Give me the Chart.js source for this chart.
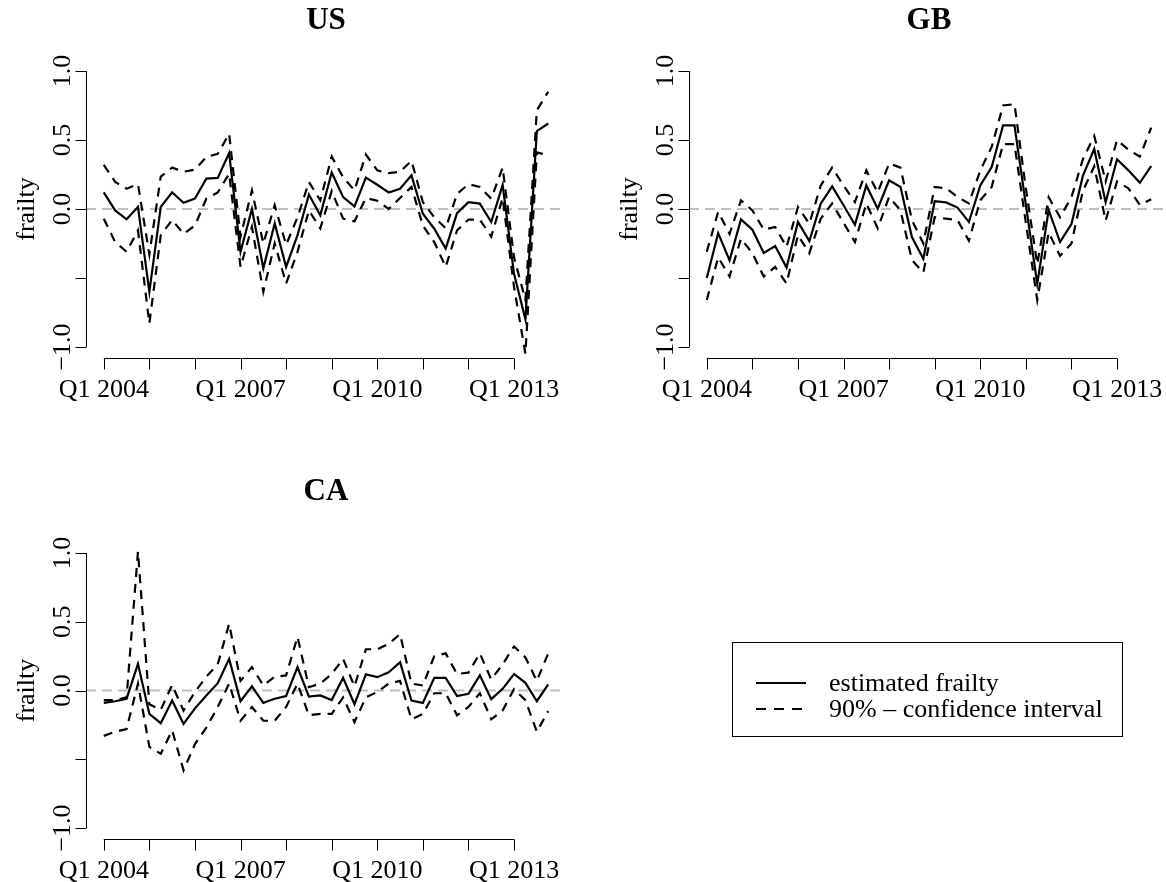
<!DOCTYPE html>
<html>
<head>
<meta charset="utf-8">
<script src="https://cdn.jsdelivr.net/npm/chart.js@4.4.1/dist/chart.umd.min.js"></script>
<style>
  html, body { margin: 0; padding: 0; background: #fff; width: 1166px; height: 882px; overflow: hidden; }
  canvas { position: absolute; left: 0; top: 0; }
  #legend { position: absolute; left: 732px; top: 642px; width: 389px; height: 93px; border: 1px solid #000;
            font-family: "Liberation Serif", "DejaVu Serif", serif; font-size: 26px; color: #000; }
  #legend .row { position: absolute; left: 22px; height: 26px; line-height: 26px; white-space: nowrap; }
  #legend svg { position: absolute; left: 0; top: 0; }
  #legend span { position: absolute; left: 74px; top: 0; }
</style>
</head>
<body>
<canvas id="us" width="1200" height="882"></canvas>
<canvas id="gb" width="1200" height="882"></canvas>
<canvas id="ca" width="1200" height="882"></canvas>
<div id="legend">
  <div class="row" style="top:27px">
    <svg width="52" height="26"><line x1="1" y1="13" x2="51" y2="13" stroke="#000" stroke-width="2.2"/></svg>
    <span>estimated frailty</span>
  </div>
  <div class="row" style="top:53px">
    <svg width="52" height="26"><line x1="1" y1="13" x2="51" y2="13" stroke="#000" stroke-width="2.2" stroke-dasharray="10 8"/></svg>
    <span>90% – confidence interval</span>
  </div>
</div>
<script>
// 四半期ラベル (Q1 2004 - Q4 2013)
const years = [2004, 2005, 2006, 2007, 2008, 2009, 2010, 2011, 2012, 2013];
const quarters = [];
years.forEach(y => ['Q1', 'Q2', 'Q3', 'Q4'].forEach(q => quarters.push(q + ' ' + y)));

// 目盛ラベル
const xLabelShown = ['Q1 2004', 'Q1 2007', 'Q1 2010', 'Q1 2013'];
const yTicks = [-1, -0.5, 0, 0.5, 1];
const yTickLabels = ['\u22121.0', '', '0.0', '0.5', '1.0'];

// US
const usMean = [0.12, -0.01, -0.075, 0.015, -0.6, 0.015, 0.12, 0.045, 0.075, 0.22,
  0.225, 0.405, -0.31, 0.0, -0.43, -0.105, -0.42, -0.19, 0.105, -0.045,
  0.265, 0.087, 0.019, 0.227, 0.176, 0.12, 0.147, 0.244, -0.034, -0.143,
  -0.287, -0.03, 0.05, 0.039, -0.094, 0.175, -0.47, -0.8, 0.565, 0.62];
const usUpper = [0.32, 0.196, 0.147, 0.18, -0.33, 0.235, 0.30, 0.27, 0.285, 0.377,
  0.40, 0.546, -0.2, 0.135, -0.25, 0.027, -0.26, -0.06, 0.196, 0.063,
  0.38, 0.23, 0.135, 0.395, 0.28, 0.26, 0.27, 0.35, 0.05, -0.06,
  -0.14, 0.11, 0.18, 0.16, 0.075, 0.30, -0.35, -0.66, 0.715, 0.85];
const usLower = [-0.07, -0.24, -0.31, -0.155, -0.83, -0.19, -0.08, -0.18, -0.12, 0.075,
  0.12, 0.256, -0.42, -0.13, -0.60, -0.25, -0.54, -0.31, -0.01, -0.14,
  0.13, -0.07, -0.09, 0.08, 0.06, 0.0, 0.08, 0.16, -0.12, -0.24,
  -0.42, -0.155, -0.077, -0.077, -0.2, 0.08, -0.565, -1.05, 0.41, 0.39];

// GB
const gbMean = [-0.5, -0.175, -0.372, -0.075, -0.15, -0.319, -0.268, -0.425, -0.094, -0.232,
  0.039, 0.164, 0.027, -0.114, 0.171, 0.002, 0.208, 0.16, -0.203, -0.36,
  0.056, 0.048, 0.01, -0.094, 0.171, 0.304, 0.606, 0.606, 0.03, -0.543,
  -0.007, -0.24, -0.11, 0.24, 0.435, 0.048, 0.36, 0.28, 0.19, 0.31];
const gbUpper = [-0.31, -0.02, -0.18, 0.063, -0.01, -0.15, -0.13, -0.275, 0.014, -0.106,
  0.17, 0.30, 0.17, 0.05, 0.28, 0.12, 0.33, 0.30, -0.08, -0.25,
  0.16, 0.15, 0.087, 0.04, 0.28, 0.45, 0.75, 0.76, 0.15, -0.40,
  0.085, -0.06, 0.085, 0.36, 0.53, 0.2, 0.5, 0.43, 0.38, 0.59];
const gbLower = [-0.66, -0.35, -0.49, -0.215, -0.32, -0.49, -0.42, -0.54, -0.19, -0.32,
  -0.07, 0.04, -0.1, -0.24, 0.04, -0.14, 0.087, -0.01, -0.37, -0.46,
  -0.06, -0.07, -0.08, -0.23, 0.063, 0.16, 0.47, 0.47, -0.1, -0.66,
  -0.17, -0.34, -0.25, 0.13, 0.31, -0.085, 0.2, 0.15, 0.03, 0.07];

// CA
const caMean = [-0.09, -0.078, -0.06, 0.194, -0.17, -0.238, -0.073, -0.243, -0.13, -0.036,
  0.053, 0.23, -0.078, 0.03, -0.09, -0.06, -0.04, 0.17, -0.044, -0.036,
  -0.07, 0.092, -0.10, 0.117, 0.097, 0.133, 0.206, -0.073, -0.09, 0.092,
  0.092, -0.04, -0.024, 0.11, -0.063, 0.012, 0.12, 0.056, -0.078, 0.044];
const caUpper = [-0.07, -0.07, -0.05, 1.01, -0.1, -0.14, 0.04, -0.146, -0.01, 0.1,
  0.19, 0.485, 0.07, 0.17, 0.036, 0.1, 0.11, 0.39, 0.024, 0.05,
  0.12, 0.23, 0.03, 0.30, 0.30, 0.34, 0.41, 0.05, 0.036, 0.25,
  0.27, 0.12, 0.13, 0.27, 0.08, 0.19, 0.32, 0.24, 0.07, 0.27];
const caLower = [-0.33, -0.3, -0.28, 0.05, -0.41, -0.46, -0.29, -0.58, -0.39, -0.27,
  -0.12, 0.05, -0.22, -0.12, -0.22, -0.22, -0.12, 0.05, -0.18, -0.17,
  -0.17, -0.05, -0.23, -0.05, -0.01, 0.05, 0.07, -0.21, -0.17, -0.02,
  -0.02, -0.18, -0.12, -0.02, -0.21, -0.145, 0.01, -0.07, -0.3, -0.15];

const FONT = '"Liberation Serif", "DejaVu Serif", serif';

// R風の軸・タイトル・ゼロ線
const rStyle = {
  id: 'rStyle',
  beforeDatasetsDraw(chart) {
    const { ctx, chartArea: ca, scales: { y } } = chart;
    const y0 = y.getPixelForValue(0);
    ctx.save();
    ctx.strokeStyle = '#bebebe';
    ctx.lineWidth = 2.2;
    ctx.setLineDash([10, 6]);
    ctx.beginPath();
    ctx.moveTo(ca.left, y0);
    ctx.lineTo(ca.right, y0);
    ctx.stroke();
    ctx.restore();
  },
  afterDraw(chart, args, opts) {
    const { ctx, chartArea: ca, scales: { x, y } } = chart;
    ctx.save();
    ctx.strokeStyle = '#000';
    ctx.fillStyle = '#000';
    ctx.lineWidth = 1;
    ctx.setLineDash([]);

    // x軸
    const tickIdx = quarters.map((q, i) => q.startsWith('Q1') ? i : -1).filter(i => i >= 0);
    const yb = Math.round(ca.bottom) + 0.5;
    const xa = x.getPixelForValue(tickIdx[0]);
    const xz = x.getPixelForValue(tickIdx[tickIdx.length - 1]);
    ctx.beginPath();
    ctx.moveTo(xa, yb); ctx.lineTo(xz, yb);
    tickIdx.forEach(i => {
      const px = Math.round(x.getPixelForValue(i)) + 0.5;
      ctx.moveTo(px, yb); ctx.lineTo(px, yb + 11);
    });
    ctx.stroke();
    ctx.font = '26px ' + FONT;
    ctx.textAlign = 'center';
    ctx.textBaseline = 'alphabetic';
    tickIdx.forEach(i => {
      if (xLabelShown.includes(quarters[i])) {
        ctx.fillText(quarters[i], x.getPixelForValue(i), yb + 38);
      }
    });

    // y軸
    const xl = Math.round(ca.left) + 0.5;
    ctx.beginPath();
    ctx.moveTo(xl, y.getPixelForValue(yTicks[0]));
    ctx.lineTo(xl, y.getPixelForValue(yTicks[yTicks.length - 1]));
    yTicks.forEach(v => {
      const py = Math.round(y.getPixelForValue(v)) + 0.5;
      ctx.moveTo(xl, py); ctx.lineTo(xl - 11, py);
    });
    ctx.stroke();
    yTicks.forEach((v, i) => {
      if (!yTickLabels[i]) return;
      ctx.save();
      ctx.translate(xl - 17, y.getPixelForValue(v));
      ctx.rotate(-Math.PI / 2);
      ctx.fillText(yTickLabels[i], 0, 0);
      ctx.restore();
    });
    // y軸タイトル
    ctx.save();
    ctx.translate(xl - 53, (ca.top + ca.bottom) / 2);
    ctx.rotate(-Math.PI / 2);
    ctx.fillText('frailty', 0, 0);
    ctx.restore();

    // パネルタイトル
    ctx.font = 'bold 31px ' + FONT;
    ctx.fillText(opts.title, (ca.left + ca.right) / 2, opts.titleY);
    ctx.restore();
  }
};

function makePanel(id, title, titleY, pad, mean, upper, lower) {
  const pts = arr => arr.map((v, i) => ({ x: i, y: v }));
  const base = { borderColor: '#000', borderWidth: 2.2, pointRadius: 0, tension: 0, fill: false };
  return new Chart(document.getElementById(id), {
    type: 'line',
    data: {
      datasets: [
        { ...base, label: 'estimated frailty', data: pts(mean) },
        { ...base, label: 'upper', data: pts(upper), borderDash: [9, 7] },
        { ...base, label: 'lower', data: pts(lower), borderDash: [9, 7] },
      ],
    },
    options: {
      responsive: false,
      animation: false,
      events: [],
      layout: { padding: pad },
      plugins: {
        legend: { display: false },
        tooltip: { enabled: false },
        rStyle: { title, titleY },
      },
      scales: {
        x: { type: 'linear', min: -1.56, max: 40.56, display: false },
        y: { type: 'linear', min: -1.08, max: 1.08, display: false },
      },
    },
    plugins: [rStyle],
  });
}

makePanel('us', 'US', 29, { left: 86, right: 634, top: 60, bottom: 524 }, usMean, usUpper, usLower);
makePanel('gb', 'GB', 29, { left: 689, right: 31, top: 60, bottom: 524 }, gbMean, gbUpper, gbLower);
makePanel('ca', 'CA', 500, { left: 86, right: 634, top: 542, bottom: 43 }, caMean, caUpper, caLower);
</script>
</body>
</html>
